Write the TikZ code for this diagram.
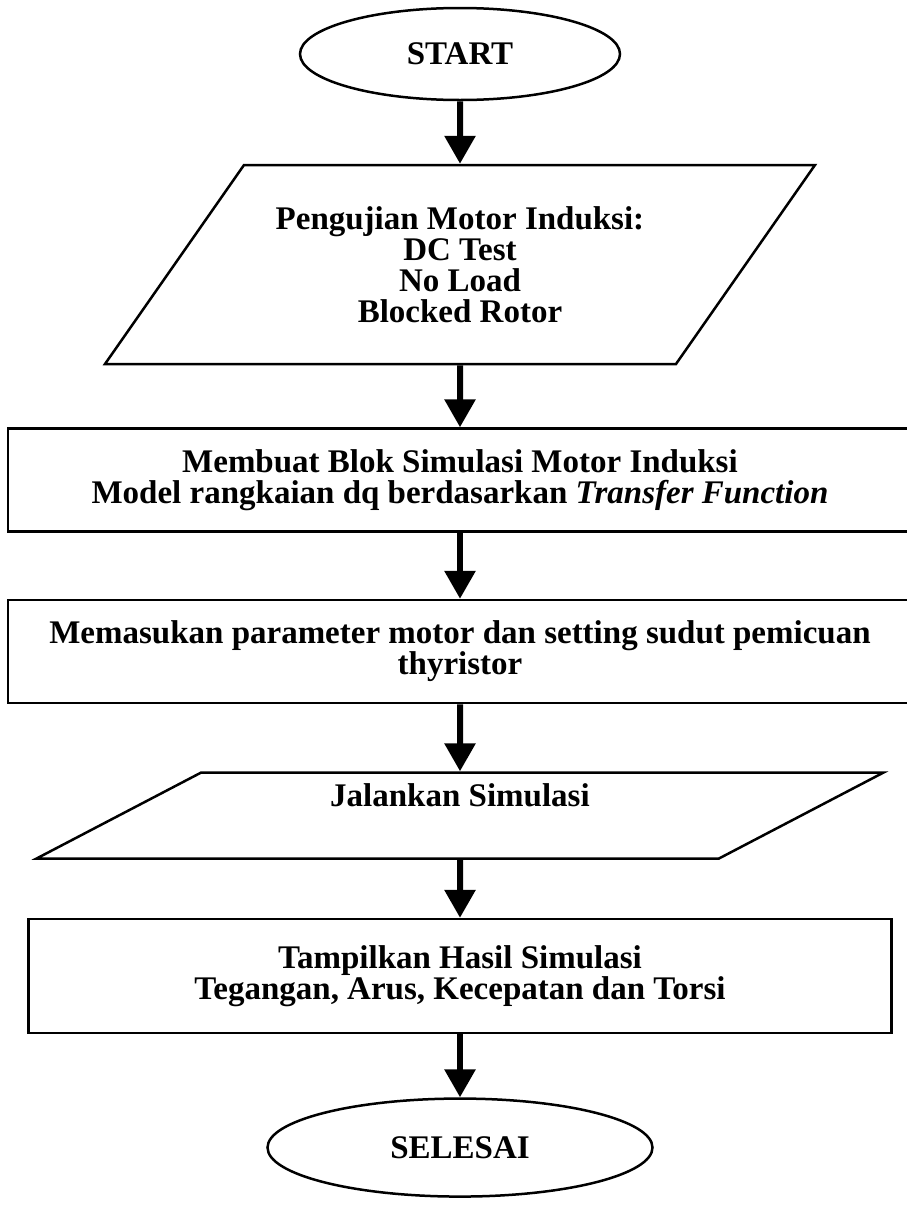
\documentclass[tikz,border=0pt]{standalone}
\usepackage{fontspec}
\setmainfont{Liberation Serif}
\usetikzlibrary{positioning,shapes.geometric,arrows.meta}
\tikzset{basic/.style={draw,line width=2.5pt,inner sep=0pt,align=center,font=\fontsize{33}{31}\selectfont\bfseries}}
\tikzset{terminal/.style={basic,ellipse}}
\tikzset{io/.style={basic,trapezium,trapezium stretches body=true}}
\tikzset{process/.style={basic,rectangle}}
\tikzset{arrow/.style={line width=6pt,-{Triangle[width=30pt,length=28pt]}}}

\begin{document}
\begin{tikzpicture}[x=1pt,y=1pt]
    \useasboundingbox (0,0) rectangle (906,-1205);

    \node[terminal,minimum width=320pt,minimum height=92pt] (start) at (460,-54) {START};

    \node[io,trapezium left angle=39.9,trapezium right angle=140.1,minimum width=710pt,minimum height=199pt,below=62.5pt of start] (test) {Pengujian Motor Induksi:\\DC Test\\No Load\\Blocked Rotor};
        \draw[arrow] (start) -- (test);

    \node[process,minimum width=904pt,minimum height=103pt,below=62pt of test] (model) {Membuat Blok Simulasi Motor Induksi\\Model rangkaian dq berdasarkan \textit{Transfer Function}};
        \draw[arrow] (test) -- (model);

    \node[process,minimum width=904pt,minimum height=103pt,below=66pt of model] (param) {Memasukan parameter motor dan setting sudut pemicuan\\thyristor};
        \draw[arrow] (model) -- (param);

    \node[io,trapezium left angle=21,trapezium right angle=159,minimum width=847pt,minimum height=86pt,below=67pt of param] (run) {Jalankan Simulasi\\\strut};
        \draw[arrow] (param) -- (run);

    \node[process,minimum width=863pt,minimum height=114pt,below=58pt of run] (result) {Tampilkan Hasil Simulasi\\Tegangan, Arus, Kecepatan dan Torsi};
        \draw[arrow] (run) -- (result);

    \node[terminal,minimum width=385pt,minimum height=98pt,below=63pt of result] (stop) {SELESAI};
        \draw[arrow] (result) -- (stop);
\end{tikzpicture}
\end{document}
